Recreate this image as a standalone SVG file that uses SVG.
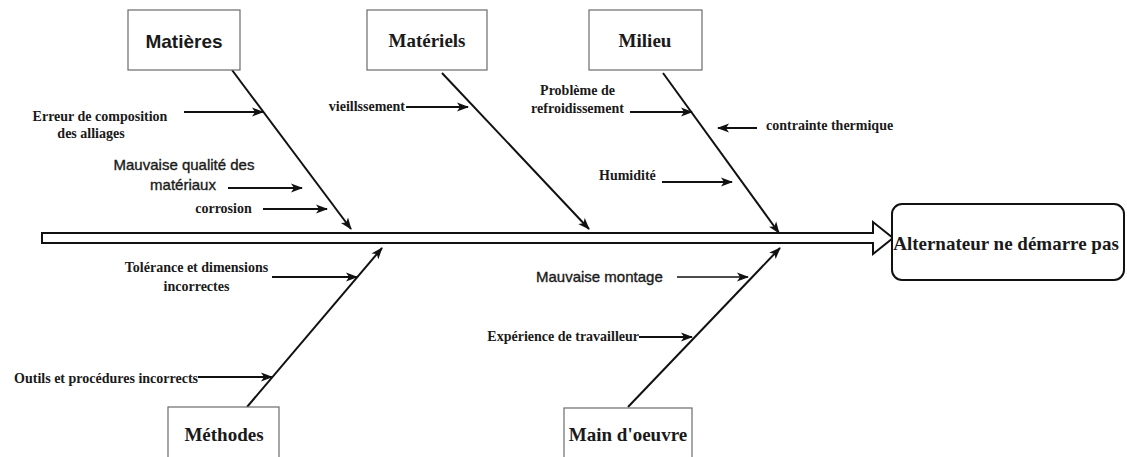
<svg xmlns="http://www.w3.org/2000/svg" width="1127" height="457" viewBox="0 0 1127 457">
<defs>
<marker id="ah" markerUnits="userSpaceOnUse" markerWidth="12" markerHeight="10" viewBox="0 0 12 10" refX="11" refY="5" orient="auto">
<path d="M0,0.5 L12,5 L0,9.5 L3,5 Z" fill="#111"/>
</marker>
<style>
.box{fill:#fff;stroke:#6b6b6b;stroke-width:1.2}
.eff{fill:#fff;stroke:#111;stroke-width:2}
.bone{stroke:#111;stroke-width:2;fill:none;marker-end:url(#ah)}
.sub{stroke:#111;stroke-width:2;fill:none;marker-end:url(#ah)}
.thin{stroke:#111;stroke-width:1.5;fill:none;marker-end:url(#ah)}
.ts{font-family:"Liberation Serif","Times New Roman",serif;font-weight:bold;fill:#1a1a1a}
.tsa{font-family:"Liberation Sans",Arial,sans-serif;fill:#1a1a1a}
.title{font-size:19px}
.lbl{font-size:14px}
.lbls{font-size:15px;stroke:#1a1a1a;stroke-width:0.35}
</style>
</defs>

<g id="spine">
<polygon points="42,233 873,233 873,222 893,238 873,254 873,243 42,243" fill="#fff" stroke="#111" stroke-width="2" stroke-linejoin="miter"/>
</g>

<g id="connectors">
<line class="bone" x1="232" y1="70" x2="351" y2="229"/>
<line class="bone" x1="442" y1="73" x2="589" y2="229"/>
<line class="bone" x1="663" y1="73" x2="779" y2="233"/>
<line class="bone" x1="247" y1="407" x2="382" y2="248"/>
<line class="bone" x1="628" y1="407" x2="780" y2="248"/>

<line class="sub" x1="184" y1="112" x2="263" y2="112"/>
<line class="sub" x1="228" y1="188" x2="302" y2="188"/>
<line class="sub" x1="263" y1="209" x2="327" y2="209"/>
<line class="sub" x1="406" y1="107" x2="468" y2="107"/>
<line class="sub" x1="630" y1="112" x2="692" y2="112"/>
<line class="sub" x1="757" y1="128" x2="718" y2="128"/>
<line class="sub" x1="662" y1="182" x2="732" y2="182"/>
<line class="sub" x1="272" y1="277" x2="357" y2="277"/>
<line class="sub" x1="198" y1="377" x2="272" y2="377"/>
<line class="thin" x1="677" y1="277" x2="748" y2="277"/>
<line class="sub" x1="639" y1="337" x2="692" y2="337"/>
</g>

<g id="node-matieres">
<rect class="box" x="128" y="10" width="112" height="60"/>
<text class="tsa title" x="184" y="48" text-anchor="middle" font-weight="bold">Matières</text>
</g>
<g id="node-materiels">
<rect class="box" x="367" y="10" width="120" height="60"/>
<text class="ts title" x="427" y="47" text-anchor="middle">Matériels</text>
</g>
<g id="node-milieu">
<rect class="box" x="589" y="10" width="113" height="60"/>
<text class="ts title" x="645" y="47" text-anchor="middle">Milieu</text>
</g>
<g id="node-methodes">
<rect class="box" x="168" y="407" width="111" height="60"/>
<text class="ts title" x="224" y="441" text-anchor="middle">Méthodes</text>
</g>
<g id="node-main">
<rect class="box" x="564" y="408" width="128" height="60"/>
<text class="ts title" x="628" y="441" text-anchor="middle">Main d'oeuvre</text>
</g>
<g id="node-effect">
<rect class="eff" x="892" y="204" width="232" height="76" rx="10" ry="10"/>
<text class="ts title" x="1006" y="250" text-anchor="middle">Alternateur ne démarre pas</text>
</g>

<g id="labels">
<text class="ts lbl" x="100" y="121" text-anchor="middle">Erreur de composition</text>
<text class="ts lbl" x="91" y="138" text-anchor="middle">des alliages</text>
<text class="tsa lbls" x="184" y="170" text-anchor="middle">Mauvaise qualité des</text>
<text class="tsa lbls" x="183" y="190" text-anchor="middle">matériaux</text>
<text class="ts lbl" x="223.5" y="213" text-anchor="middle">corrosion</text>
<text class="ts lbl" x="405" y="111" text-anchor="end">vieillssement</text>
<text class="ts lbl" x="577.5" y="95" text-anchor="middle">Problème de</text>
<text class="ts lbl" x="577.5" y="113" text-anchor="middle">refroidissement</text>
<text class="ts lbl" x="766" y="130">contrainte thermique</text>
<text class="ts lbl" x="599" y="180">Humidité</text>
<text class="ts lbl" x="196.5" y="272" text-anchor="middle">Tolérance et dimensions</text>
<text class="ts lbl" x="196.5" y="291" text-anchor="middle">incorrectes</text>
<text class="ts lbl" x="198" y="383" text-anchor="end">Outils et procédures incorrects</text>
<text class="tsa lbls" x="536" y="282">Mauvaise montage</text>
<text class="ts lbl" x="639" y="341" text-anchor="end">Expérience de travailleur</text>
</g>
</svg>
